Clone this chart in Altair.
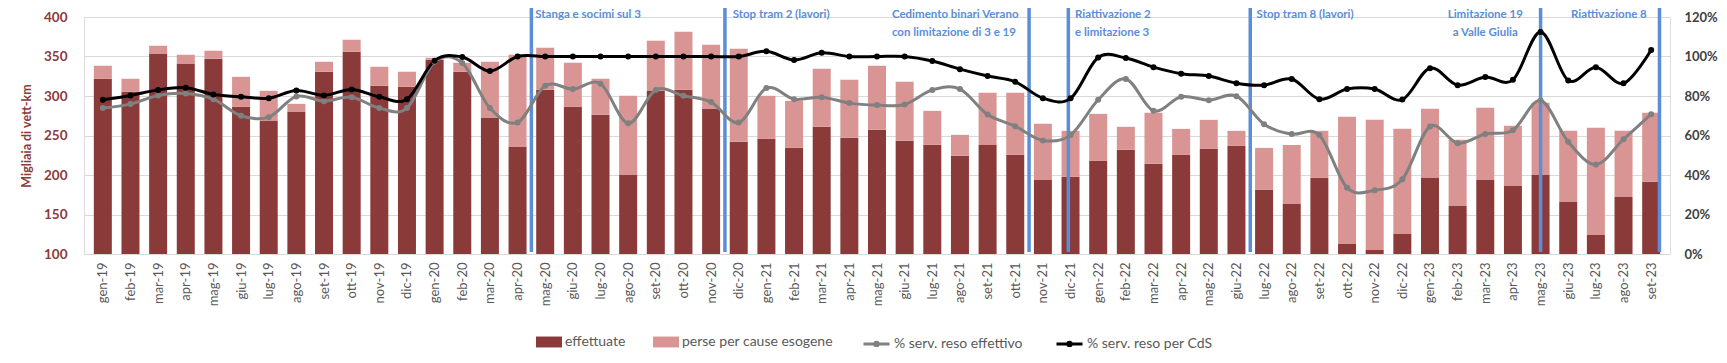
import json
import altair as alt
import pandas as pd

months = [f"{m}-{y}" for y in ["19", "20", "21", "22", "23"]
          for m in ["gen", "feb", "mar", "apr", "mag", "giu", "lug", "ago", "set", "ott", "nov", "dic"]][:57]

effettuate = [321.8, 305.3, 353.9, 341.2, 347.2, 286.3, 269.0, 280.4, 330.7, 356.0, 312.9, 311.7,
              345.9, 330.7, 272.8, 235.6, 307.9, 286.3, 276.2, 200.1, 307.0, 307.9, 284.2, 242.0,
              245.8, 234.3, 261.0, 247.0, 257.2, 243.2, 238.1, 224.2, 238.1, 225.5, 193.8, 197.6,
              217.9, 231.8, 214.1, 225.5, 233.1, 236.9, 181.1, 163.4, 196.3, 112.7, 105.1, 125.3,
              196.3, 160.8, 193.8, 186.2, 200.1, 165.9, 124.1, 172.2, 191.3]
perse = [16.5, 16.5, 9.7, 11.0, 10.1, 38.0, 37.6, 9.7, 12.6, 15.2, 24.1, 19.0,
         2.5, 11.4, 70.5, 116.6, 53.2, 55.8, 45.6, 100.2, 63.0, 73.5, 80.7, 117.8,
         54.5, 59.6, 73.5, 73.5, 81.1, 74.8, 43.1, 26.6, 65.9, 78.5, 71.0, 58.3,
         59.5, 29.2, 64.6, 32.9, 36.7, 19.0, 53.2, 74.7, 59.6, 160.9, 164.7, 133.1,
         87.5, 83.7, 91.2, 76.0, 91.3, 90.0, 135.6, 83.7, 87.4]
pct_effettivo = [73.9, 75.9, 80.3, 81.3, 78.4, 70.0, 69.3, 79.8, 77.4, 79.4, 73.9, 73.9,
                 97.3, 96.7, 73.9, 66.6, 85.2, 83.5, 86.2, 66.2, 83.1, 80.1, 76.9, 66.6,
                 84.0, 78.4, 79.4, 76.4, 75.4, 75.7, 83.1, 83.5, 70.6, 64.7, 57.5, 60.2,
                 78.1, 88.6, 72.5, 79.6, 77.9, 79.9, 65.7, 60.7, 60.2, 33.6, 32.3, 37.9,
                 64.6, 56.1, 60.8, 62.7, 77.7, 56.8, 45.3, 58.1, 70.8]
pct_cds = [78.1, 80.3, 83.1, 84.2, 80.8, 79.6, 78.9, 82.8, 80.3, 83.3, 79.6, 78.4,
           97.9, 99.7, 92.6, 100.0, 100.0, 100.0, 100.0, 100.0, 100.0, 100.0, 100.0, 100.0,
           102.6, 98.2, 101.9, 100.0, 100.0, 100.0, 97.7, 93.6, 90.1, 87.2, 78.9, 78.8,
           99.5, 99.2, 94.6, 91.3, 90.1, 86.5, 85.5, 88.6, 78.4, 83.5, 83.5, 78.2,
           94.1, 85.5, 89.6, 88.2, 112.4, 87.9, 94.6, 86.4, 103.3]

# events (month index where the blue marker line falls)
event_pos = [15.5, 22.5, 33.5, 34.92, 41.5, 52.0, 56.3]
ann_row1 = ["Stanga e socimi sul 3", "Stop tram 2 (lavori)", "Cedimento binari Verano",
            "Riattivazione  2", "Stop tram 8 (lavori)", "Limitazione 19", "Riattivazione  8"]
ann_row1_pos = [15.64, 22.78, 28.54, 35.16, 41.73, 50.0, 53.1]
ann_row1_align = ["left", "left", "left", "left", "left", "center", "left"]
ann_row2 = ["con limitazione di 3 e 19", "e limitazione 3", "a Valle Giulia"]
ann_row2_pos = [28.54, 35.16, 50.0]
ann_row2_align = ["left", "left", "center"]

bar_series = ["effettuate", "perse per cause esogene"]
bar_colors = ["#8B3A3A", "#D99594"]
line_series = ["% serv. reso effettivo", "% serv. reso per CdS"]
line_colors = ["#808080", "#000000"]

n = len(months)
bars = pd.DataFrame(
    [{"idx": i, "serie": bar_series[0], "lo": 100, "hi": effettuate[i]} for i in range(n)]
    + [{"idx": i, "serie": bar_series[1], "lo": effettuate[i], "hi": effettuate[i] + perse[i]} for i in range(n)]
)
lines = pd.DataFrame(
    [{"idx": i, "serie": line_series[0], "pct": pct_effettivo[i]} for i in range(n)]
    + [{"idx": i, "serie": line_series[1], "pct": pct_cds[i]} for i in range(n)]
)
events = pd.DataFrame({"pos": event_pos})
ann1 = pd.DataFrame({"pos": ann_row1_pos, "label": ann_row1, "al": ann_row1_align})
ann2 = pd.DataFrame({"pos": ann_row2_pos, "label": ann_row2, "al": ann_row2_align})

FONT = "Lato"
BLUE = "#5B8ED6"
rect_path = "M-1,-0.42H1V0.42H-1Z"
line_path = "M-1,0H1M0.13,0A0.13,0.13 0 1 1 -0.13,0A0.13,0.13 0 1 1 0.13,0"

common_legend = dict(title=None, orient="none", direction="horizontal",
                     labelFont=FONT, labelFontSize=14, labelColor="#595959", labelOffset=3,
                     symbolSize=676, columnPadding=27, legendY=312)

x_scale = alt.Scale(domain=[-0.5, n - 0.5], nice=False, zero=False)
x_axis = alt.Axis(values=list(range(n)), labelExpr=json.dumps(months) + "[datum.value]",
                  labelAngle=270, labelFont=FONT, labelFontSize=13, labelColor="#595959",
                  labelPadding=8, ticks=False, grid=False, domainColor="#D9D9D9",
                  title=None, labelOverlap=False, labelFlush=False, labelBound=False,
                  labelSeparation=0)
x_enc = alt.X("idx:Q", scale=x_scale, axis=x_axis)
x_pos = alt.X("pos:Q", scale=x_scale, axis=x_axis)
yl_scale = alt.Scale(domain=[100, 400], nice=False, zero=False)

bar_layer = alt.Chart(bars).mark_bar(size=18).encode(
    x=x_enc,
    y=alt.Y("lo:Q", scale=yl_scale,
            axis=alt.Axis(values=[100, 150, 200, 250, 300, 350, 400], title="Migliaia di vett-km",
                          titleFont=FONT, titleFontSize=12.5, titleFontWeight="bold", titleColor="#8B3A3A",
                          titlePadding=10, labelFont=FONT, labelFontSize=13.5, labelFontWeight="bold",
                          labelColor="#8B3A3A", labelPadding=17, ticks=False, domain=False,
                          gridColor="#D9D9D9", gridWidth=1)),
    y2="hi:Q",
    color=alt.Color("serie:N", scale=alt.Scale(domain=bar_series, range=bar_colors), sort=bar_series,
                    legend=alt.Legend(symbolType=rect_path, symbolStrokeWidth=0, legendX=452,
                                      **common_legend)),
)
rule_layer = alt.Chart(events).mark_rule(color=BLUE, strokeWidth=3.5).encode(
    x=x_pos, y=alt.value(-9), y2=alt.value(235)
)


def ann_text(df, al, ypix):
    return alt.Chart(df).transform_filter(f"datum.al == '{al}'").mark_text(
        font=FONT, fontSize=11.5, fontWeight="bold", color=BLUE, baseline="middle", align=al
    ).encode(x=x_pos, y=alt.value(ypix), text="label:N")


left = alt.layer(bar_layer, rule_layer,
                 ann_text(ann1, "left", -2), ann_text(ann1, "center", -2),
                 ann_text(ann2, "left", 16), ann_text(ann2, "center", 16))

yr = alt.Y("pct:Q", scale=alt.Scale(domain=[0, 120], nice=False),
           axis=alt.Axis(orient="right", values=[0, 20, 40, 60, 80, 100, 120],
                         labelExpr="datum.value + '%'", labelFont=FONT, labelFontSize=13,
                         labelFontWeight="bold", labelColor="#404040", labelPadding=14,
                         ticks=False, domain=False, grid=False, title=None))
line_layer = alt.Chart(lines).mark_line(interpolate="cardinal", strokeWidth=3).encode(
    x=x_enc, y=yr,
    stroke=alt.Stroke("serie:N", scale=alt.Scale(domain=line_series, range=line_colors), sort=line_series,
                      legend=alt.Legend(symbolType=line_path, symbolStrokeWidth=3,
                                        symbolFillColor="transparent", legendX=778, **common_legend)),
)
point_layers = [
    alt.Chart(lines).transform_filter(f"datum.serie == '{s}'").mark_circle(size=36, opacity=1, color=c)
    .encode(x=x_enc, y=yr)
    for s, c in zip(line_series, line_colors)
]
right = alt.layer(line_layer, *point_layers)

chart = alt.layer(left, right).resolve_scale(y="independent").properties(
    width=1586, height=237,
    autosize=alt.AutoSizeParams(type="none"),
    padding={"left": 76, "top": 9, "right": 49, "bottom": 100},
).configure_view(stroke=None).configure(font=FONT)

chart.save("out.html", embed_options={"renderer": "svg", "actions": False})
